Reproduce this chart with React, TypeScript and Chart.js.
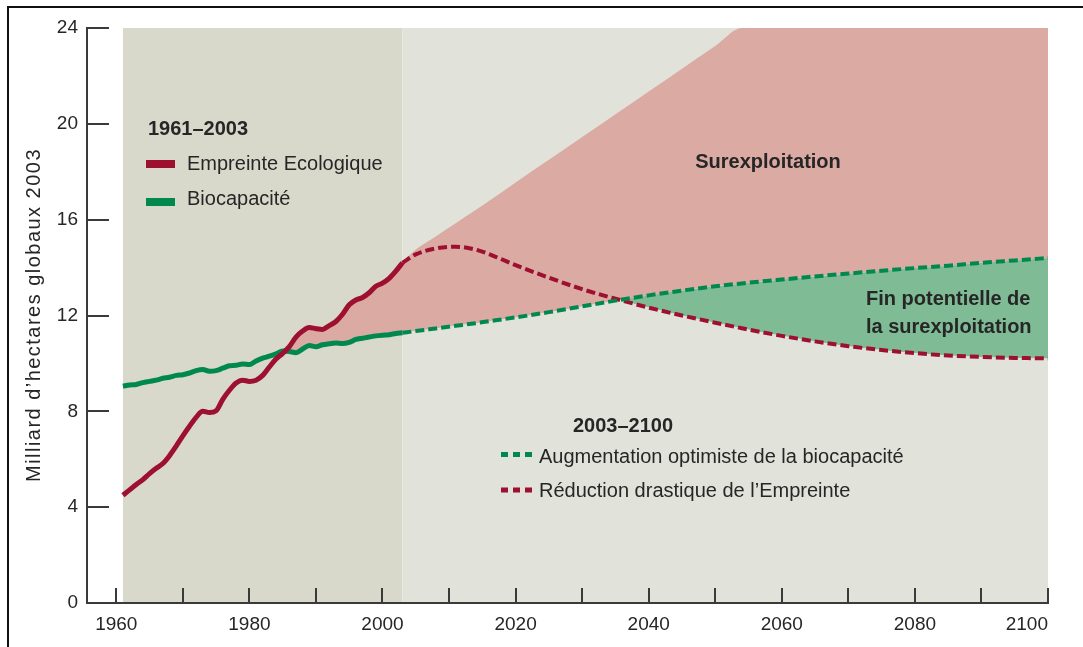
import React, { useEffect, useRef } from 'react';
import { Chart, registerables } from 'chart.js';

Chart.register(...registerables);

// ---------- data ----------
const histYears = [
  1961, 1962, 1963, 1964, 1965, 1966, 1967, 1968, 1969, 1970,
  1971, 1972, 1973, 1974, 1975, 1976, 1977, 1978, 1979, 1980,
  1981, 1982, 1983, 1984, 1985, 1986, 1987, 1988, 1989, 1990,
  1991, 1992, 1993, 1994, 1995, 1996, 1997, 1998, 1999, 2000,
  2001, 2002, 2003,
];
const histFootprint = [
  4.5, 4.72, 4.95, 5.15, 5.4, 5.62, 5.82, 6.15, 6.55, 6.98,
  7.38, 7.75, 8.0, 7.95, 8.02, 8.5, 8.88, 9.18, 9.3, 9.25,
  9.3, 9.5, 9.85, 10.18, 10.42, 10.7, 11.1, 11.35, 11.5, 11.45,
  11.42, 11.58, 11.75, 12.05, 12.45, 12.65, 12.75, 12.95, 13.22, 13.35,
  13.55, 13.85, 14.2,
];
const histBiocapacity = [
  9.05, 9.1, 9.12, 9.2, 9.25, 9.3, 9.38, 9.42, 9.5, 9.53,
  9.6, 9.7, 9.75, 9.67, 9.7, 9.8, 9.9, 9.92, 9.98, 9.95,
  10.1, 10.22, 10.3, 10.4, 10.52, 10.5, 10.45, 10.6, 10.75, 10.7,
  10.78, 10.82, 10.85, 10.83, 10.88, 11.0, 11.05, 11.1, 11.15, 11.18,
  11.2, 11.25, 11.28,
];
const projYears = [
  2003, 2005, 2008, 2011, 2014, 2017, 2020, 2025, 2030, 2035, 2040, 2045,
  2050, 2054, 2060, 2065, 2070, 2075, 2080, 2085, 2090, 2095, 2100,
];
const projBiocapacity = [
  11.28, 11.35, 11.46, 11.57, 11.68, 11.8, 11.92, 12.14, 12.38, 12.62, 12.84, 13.04,
  13.22, 13.34, 13.5, 13.63, 13.75, 13.87, 13.98, 14.08, 14.2, 14.3, 14.4,
];
const projFootprint = [
  14.2, 14.55, 14.8, 14.87, 14.75, 14.45, 14.1, 13.58, 13.1, 12.7, 12.33, 12.0,
  11.7, 11.47, 11.15, 10.92, 10.72, 10.56, 10.43, 10.33, 10.27, 10.23, 10.21,
];
const businessAsUsual = [
  14.2, 14.75, 15.3, 15.85, 16.4, 16.97, 17.55, 18.5, 19.45, 20.4, 21.35, 22.3,
  23.25, 24, 24, 24, 24, 24, 24, 24, 24, 24, 24,
];
const yTicks = [0, 4, 8, 12, 16, 20, 24];
const xTickYears = [1960, 1970, 1980, 1990, 2000, 2010, 2020, 2030, 2040, 2050, 2060, 2070, 2080, 2090, 2100];
const xLabelYears = [1960, 1980, 2000, 2020, 2040, 2060, 2080, 2100];
const periodHistoric = [1961, 2003];
const periodProjection = [2003, 2100];

// ---------- styles ----------
const RED = '#9e1030';
const GREEN = '#00884e';
const PINK = '#dbaaa3';
const GREEN_FILL = '#7fbc96';
const BG_DARK = '#d8d9cb';
const BG_LIGHT = '#e1e3da';
const AXIS = '#3a3a3a';
const TEXT = '#262626';
const CLEAR = 'rgba(0,0,0,0)';
const FAMILY = '"Liberation Sans", Arial, Helvetica, sans-serif';

const pts = (xs: number[], ys: number[]) => xs.map((x, i) => ({ x, y: ys[i] }));

const upperBound = pts(histYears, histFootprint).concat(pts(projYears.slice(1), businessAsUsual.slice(1)));
const lowerBound = pts(histYears, histBiocapacity).concat(pts(projYears.slice(1), projBiocapacity.slice(1)));

const decor = {
  id: 'decor',
  beforeDraw(chart: any) {
    const { ctx, scales } = chart;
    const x = scales.x, y = scales.y;
    const top = y.getPixelForValue(24), bot = y.getPixelForValue(0);
    ctx.save();
    ctx.fillStyle = BG_DARK;
    const x0 = x.getPixelForValue(periodHistoric[0]);
    const x1 = x.getPixelForValue(periodHistoric[1]);
    ctx.fillRect(x0, top, x1 - x0, bot - top);
    ctx.fillStyle = BG_LIGHT;
    const x2 = x.getPixelForValue(periodProjection[1]);
    ctx.fillRect(x1, top, x2 - x1, bot - top);
    ctx.restore();
  },
  afterDraw(chart: any) {
    const { ctx, scales, chartArea } = chart;
    const x = scales.x, y = scales.y;
    ctx.save();
    // inward tick marks
    ctx.strokeStyle = AXIS;
    ctx.lineWidth = 2;
    ctx.beginPath();
    for (const v of yTicks) {
      if (v === 0) continue;
      const py = Math.round(y.getPixelForValue(v));
      ctx.moveTo(chartArea.left, py);
      ctx.lineTo(chartArea.left + 22, py);
    }
    for (const v of xTickYears) {
      const px = Math.round(x.getPixelForValue(v));
      ctx.moveTo(px, chartArea.bottom);
      ctx.lineTo(px, chartArea.bottom - 15);
    }
    ctx.stroke();

    const txt = (s: string, px: number, py: number, font: string, align: CanvasTextAlign = 'left') => {
      ctx.font = font;
      ctx.textAlign = align;
      ctx.textBaseline = 'alphabetic';
      ctx.fillStyle = TEXT;
      ctx.fillText(s, px, py);
    };
    const REG = `20px ${FAMILY}`;
    const BOLD = `bold 20px ${FAMILY}`;

    // legend 1961–2003
    txt('1961–2003', 148, 135, BOLD);
    ctx.fillStyle = RED;
    ctx.fillRect(146, 160, 29, 8);
    txt('Empreinte Ecologique', 187, 170, REG);
    ctx.fillStyle = GREEN;
    ctx.fillRect(146, 198, 29, 8);
    txt('Biocapacité', 187, 205, REG);

    // legend 2003–2100
    txt('2003–2100', 573, 432, BOLD);
    ctx.lineWidth = 5;
    ctx.lineCap = 'butt';
    ctx.setLineDash([7, 5]);
    ctx.strokeStyle = GREEN;
    ctx.beginPath();
    ctx.moveTo(501, 454.5);
    ctx.lineTo(532, 454.5);
    ctx.stroke();
    ctx.strokeStyle = RED;
    ctx.beginPath();
    ctx.moveTo(501, 490);
    ctx.lineTo(532, 490);
    ctx.stroke();
    ctx.setLineDash([]);
    txt('Augmentation optimiste de la biocapacité', 539, 463, REG);
    txt('Réduction drastique de l’Empreinte', 539, 497, REG);

    // annotations
    txt('Surexploitation', 768, 168, BOLD, 'center');
    txt('Fin potentielle de', 866, 305, BOLD);
    txt('la surexploitation', 866, 333, BOLD);

    // y axis title
    const title = 'Milliard d’hectares globaux 2003';
    ctx.save();
    ctx.translate(34, 315);
    ctx.rotate(-Math.PI / 2);
    ctx.font = `20px ${FAMILY}`;
    const w = ctx.measureText(title).width;
    const ls = Math.max(0, (334 - w) / title.length);
    (ctx as any).letterSpacing = `${ls}px`;
    ctx.textAlign = 'center';
    ctx.textBaseline = 'middle';
    ctx.fillStyle = TEXT;
    ctx.fillText(title, 0, 0);
    (ctx as any).letterSpacing = '0px';
    ctx.restore();

    // frame
    ctx.fillStyle = '#111';
    ctx.fillRect(7, 6, 1076, 2);
    ctx.fillRect(7, 6, 2, 641);
    ctx.restore();
  },
};

export default function App() {
  const ref = useRef<HTMLCanvasElement>(null);
  useEffect(() => {
    const canvas = ref.current!;
    const tickFont = { family: FAMILY, size: 19 };
    const chart = new Chart(canvas, {
      type: 'line',
      data: {
        datasets: [
          {
            data: upperBound,
            borderColor: CLEAR,
            borderWidth: 0,
            pointRadius: 0,
            cubicInterpolationMode: 'monotone',
            fill: { target: 1, above: PINK, below: CLEAR },
          },
          {
            data: lowerBound,
            borderColor: CLEAR,
            borderWidth: 0,
            pointRadius: 0,
            cubicInterpolationMode: 'monotone',
            fill: false,
          },
          {
            data: pts(projYears, projBiocapacity),
            borderColor: GREEN,
            borderWidth: 4,
            borderDash: [9, 4],
            pointRadius: 0,
            cubicInterpolationMode: 'monotone',
            fill: { target: 3, above: GREEN_FILL, below: CLEAR },
          },
          {
            data: pts(projYears, projFootprint),
            borderColor: RED,
            borderWidth: 4,
            borderDash: [9, 4],
            pointRadius: 0,
            cubicInterpolationMode: 'monotone',
            fill: false,
          },
          {
            data: pts(histYears, histFootprint),
            borderColor: RED,
            borderWidth: 5,
            pointRadius: 0,
            cubicInterpolationMode: 'monotone',
            fill: false,
          },
          {
            data: pts(histYears, histBiocapacity),
            borderColor: GREEN,
            borderWidth: 5,
            pointRadius: 0,
            cubicInterpolationMode: 'monotone',
            fill: false,
          },
        ],
      },
      options: {
        responsive: false,
        animation: false,
        events: [],
        layout: { padding: { left: 0, right: 35, top: 28, bottom: 0 } },
        plugins: {
          legend: { display: false },
          tooltip: { enabled: false },
          filler: { drawTime: 'beforeDatasetsDraw', propagate: false },
        },
        scales: {
          x: {
            type: 'linear',
            min: 1955.6,
            max: 2100,
            grid: { display: false, drawTicks: false },
            border: { display: true, color: AXIS, width: 2 },
            afterBuildTicks: (s: any) => {
              s.ticks = [{ value: s.min }, ...xTickYears.map((v) => ({ value: v }))];
            },
            afterFit: (s: any) => {
              s.height = 44;
            },
            ticks: {
              autoSkip: false,
              maxRotation: 0,
              minRotation: 0,
              align: 'inner',
              padding: 10,
              font: tickFont,
              color: TEXT,
              callback: (v: any) => (xLabelYears.includes(Number(v)) ? String(v) : ''),
            },
          },
          y: {
            min: 0,
            max: 24,
            grid: { display: false, drawTicks: false },
            border: { display: true, color: AXIS, width: 2 },
            afterBuildTicks: (s: any) => {
              s.ticks = yTicks.map((v) => ({ value: v }));
            },
            afterFit: (s: any) => {
              s.width = 87;
            },
            ticks: { padding: 9, font: tickFont, color: TEXT },
          },
        },
      } as any,
      plugins: [decor],
    });
    return () => chart.destroy();
  }, []);
  return (
    <canvas
      ref={ref}
      width={1083}
      height={647}
      style={{ position: 'fixed', left: 0, top: 0, width: 1083, height: 647 }}
    />
  );
}
